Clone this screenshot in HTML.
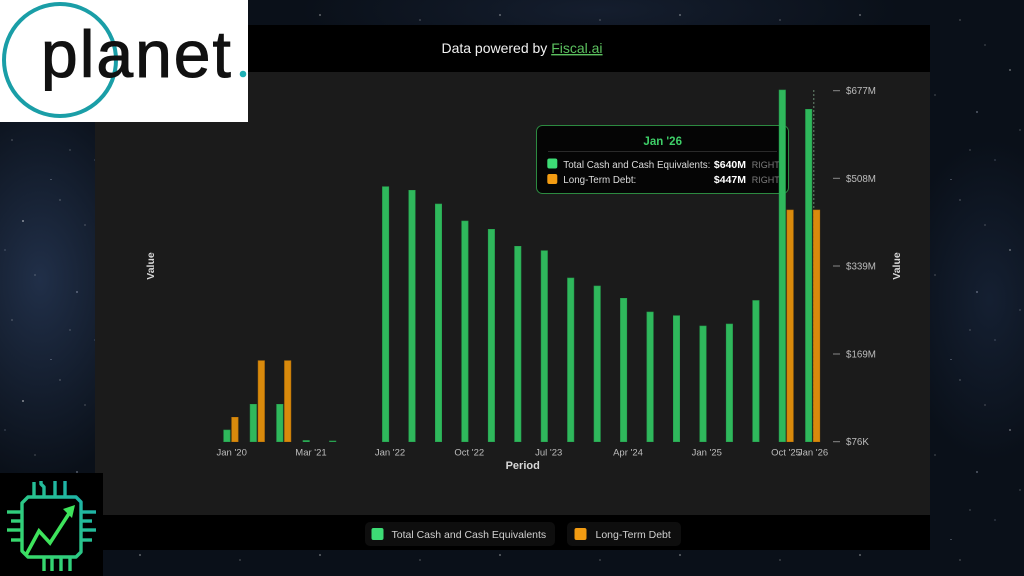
<!DOCTYPE html>
<html><head><meta charset="utf-8">
<style>
html,body{margin:0;padding:0;width:1024px;height:576px;overflow:hidden;}
body{
  background-color:#0a1019;
  background-image:
    radial-gradient(1.2px 1.2px at 23px 41px,#fff,transparent),
    radial-gradient(1px 1px at 77px 112px,#dde6ff,transparent),
    radial-gradient(1px 1px at 140px 15px,#fff,transparent),
    radial-gradient(1.3px 1.3px at 168px 150px,#fff,transparent),
    radial-gradient(1px 1px at 51px 180px,#cfd9f0,transparent),
    radial-gradient(1px 1px at 110px 70px,#fff,transparent),
    radial-gradient(0.8px 0.8px at 12px 140px,#fff,transparent),
    radial-gradient(0.8px 0.8px at 95px 160px,#bcc8e6,transparent),
    radial-gradient(0.8px 0.8px at 60px 20px,#fff,transparent),
    radial-gradient(0.8px 0.8px at 130px 95px,#fff,transparent),
    radial-gradient(0.7px 0.7px at 35px 95px,#fff,transparent),
    radial-gradient(0.7px 0.7px at 150px 60px,#fff,transparent),
    radial-gradient(0.7px 0.7px at 85px 45px,#fff,transparent),
    radial-gradient(0.7px 0.7px at 5px 70px,#dfe8ff,transparent),
    radial-gradient(0.7px 0.7px at 120px 130px,#fff,transparent),
    radial-gradient(0.7px 0.7px at 70px 150px,#fff,transparent),
    radial-gradient(ellipse 120px 200px at 40px 280px,rgba(60,85,130,0.45),transparent),
    radial-gradient(ellipse 90px 160px at 990px 300px,rgba(40,60,95,0.35),transparent),
    radial-gradient(ellipse 300px 60px at 600px 10px,rgba(40,55,85,0.35),transparent);
  background-size:180px 180px,180px 180px,180px 180px,180px 180px,180px 180px,180px 180px,180px 180px,180px 180px,180px 180px,180px 180px,180px 180px,180px 180px,180px 180px,180px 180px,180px 180px,180px 180px,100% 100%,100% 100%,100% 100%;
  background-repeat:repeat,repeat,repeat,repeat,repeat,repeat,repeat,repeat,repeat,repeat,repeat,repeat,repeat,repeat,repeat,repeat,no-repeat,no-repeat,no-repeat;
  font-family:"Liberation Sans",sans-serif;
}
svg{position:absolute;left:0;top:0;}
</style></head>
<body>
<svg width="1024" height="576" viewBox="0 0 1024 576" xmlns="http://www.w3.org/2000/svg" font-family="Liberation Sans, sans-serif">
  <defs>
    <linearGradient id="chipg" x1="15" y1="570" x2="95" y2="480" gradientUnits="userSpaceOnUse">
      <stop offset="0" stop-color="#3ee35c"/>
      <stop offset="1" stop-color="#17a8b8"/>
    </linearGradient>
  </defs>

  <!-- panel -->
  <rect x="95" y="25" width="835" height="47" fill="#000"/>
  <rect x="95" y="72" width="835" height="443" fill="#1b1b1b"/>
  <rect x="95" y="515" width="835" height="35" fill="#000"/>

  <!-- header text -->
  <text x="522" y="53" font-size="14" fill="#f2f2f2" text-anchor="middle">Data powered by <tspan fill="#5cc15f" text-decoration="underline">Fiscal.ai</tspan></text>

  <!-- axis labels -->
  <text transform="translate(154,266) rotate(-90)" font-size="10.5" font-weight="bold" fill="#d8d8d8" text-anchor="middle">Value</text>
  <text transform="translate(900,266) rotate(-90)" font-size="10.5" font-weight="bold" fill="#d8d8d8" text-anchor="middle">Value</text>
  <text x="522.7" y="469" font-size="11" font-weight="bold" fill="#d8d8d8" text-anchor="middle">Period</text>

  <!-- right ticks -->
  <g stroke="#8a8a8a" stroke-width="1">
    <line x1="833" y1="90.7" x2="840" y2="90.7"/>
    <line x1="833" y1="178.3" x2="840" y2="178.3"/>
    <line x1="833" y1="266" x2="840" y2="266"/>
    <line x1="833" y1="354" x2="840" y2="354"/>
    <line x1="833" y1="441.7" x2="840" y2="441.7"/>
  </g>
  <g font-size="9.8" fill="#bdbdbd">
    <text x="846" y="94.2">$677M</text>
    <text x="846" y="181.8">$508M</text>
    <text x="846" y="269.5">$339M</text>
    <text x="846" y="357.5">$169M</text>
    <text x="846" y="445.2">$76K</text>
  </g>

  <!-- x labels -->
  <g font-size="9.5" fill="#bdbdbd" text-anchor="middle">
    <text x="231.7" y="455.5">Jan '20</text>
    <text x="311" y="455.5">Mar '21</text>
    <text x="390" y="455.5">Jan '22</text>
    <text x="469.3" y="455.5">Oct '22</text>
    <text x="548.7" y="455.5">Jul '23</text>
    <text x="628" y="455.5">Apr '24</text>
    <text x="706.8" y="455.5">Jan '25</text>
    <text x="786" y="455.5">Oct '25</text>
    <text x="813" y="455.5">Jan '26</text>
  </g>

  <!-- tooltip (under bars) -->
  <rect x="536.5" y="125.5" width="252" height="68" rx="6" fill="#050505" stroke="#2c8a40" stroke-width="1"/>
  <text x="662.7" y="145" font-size="11.5" font-weight="bold" fill="#3ecf68" text-anchor="middle">Jan '26</text>
  <line x1="548" y1="151.5" x2="777" y2="151.5" stroke="#2a2a2a" stroke-width="1"/>
  <rect x="547.3" y="158.5" width="10" height="10" rx="2" fill="#3ddc75"/>
  <text x="563.3" y="167.8" font-size="9.8" fill="#dcdcdc">Total Cash and Cash Equivalents:</text>
  <text x="746" y="167.8" font-size="10.5" font-weight="bold" fill="#fff" text-anchor="end">$640M</text>
  <text x="751.7" y="167.8" font-size="9" fill="#7d7d7d">RIGHT</text>
  <rect x="547.3" y="174" width="10" height="10" rx="2" fill="#f39c12"/>
  <text x="563.3" y="183" font-size="9.8" fill="#dcdcdc">Long-Term Debt:</text>
  <text x="746" y="183" font-size="10.5" font-weight="bold" fill="#fff" text-anchor="end">$447M</text>
  <text x="751.7" y="183" font-size="9" fill="#7d7d7d">RIGHT</text>

  <!-- dashed hover line -->
  <line x1="813.8" y1="90" x2="813.8" y2="441.7" stroke="#6a8a72" stroke-width="1" stroke-dasharray="2,2"/>

  <!-- green bars -->
  <g fill="#2fb85c" stroke="#27a04f" stroke-width="0.6">
    <rect x="223.7" y="430" width="6.4" height="11.7"/>
    <rect x="250.1" y="404.3" width="6.4" height="37.4"/>
    <rect x="276.6" y="404.3" width="6.4" height="37.4"/>
    <rect x="303.0" y="440.5" width="6.4" height="1.2"/>
    <rect x="329.5" y="441" width="6.4" height="0.7"/>
    <rect x="382.4" y="186.7" width="6.4" height="255"/>
    <rect x="408.8" y="190.3" width="6.4" height="251.4"/>
    <rect x="435.3" y="204" width="6.4" height="237.7"/>
    <rect x="461.7" y="221" width="6.4" height="220.7"/>
    <rect x="488.2" y="229.3" width="6.4" height="212.4"/>
    <rect x="514.6" y="246.3" width="6.4" height="195.4"/>
    <rect x="541.1" y="250.7" width="6.4" height="191"/>
    <rect x="567.5" y="278" width="6.4" height="163.7"/>
    <rect x="594.0" y="286" width="6.4" height="155.7"/>
    <rect x="620.4" y="298.3" width="6.4" height="143.4"/>
    <rect x="646.9" y="312" width="6.4" height="129.7"/>
    <rect x="673.3" y="315.7" width="6.4" height="126"/>
    <rect x="699.8" y="326" width="6.4" height="115.7"/>
    <rect x="726.2" y="324" width="6.4" height="117.7"/>
    <rect x="752.7" y="300.5" width="6.4" height="141.2"/>
    <rect x="779.1" y="90" width="6.4" height="351.7"/>
    <rect x="805.5" y="109.3" width="6.4" height="332.4"/>
  </g>
  <!-- orange bars -->
  <g fill="#d98a0c" stroke="#c07608" stroke-width="0.6">
    <rect x="231.7" y="417.3" width="6.4" height="24.4"/>
    <rect x="258.1" y="360.7" width="6.4" height="81"/>
    <rect x="284.5" y="360.7" width="6.4" height="81"/>
    <rect x="786.9" y="210" width="6.4" height="231.7"/>
    <rect x="813.4" y="210" width="6.4" height="231.7"/>
  </g>

  <!-- legend -->
  <rect x="365" y="522" width="190" height="24" rx="5" fill="#0e0e0e"/>
  <rect x="371.5" y="528" width="12" height="12" rx="2" fill="#3ddc75"/>
  <text x="391.5" y="538" font-size="10.5" fill="#d0d0d0">Total Cash and Cash Equivalents</text>
  <rect x="567" y="522" width="114" height="24" rx="5" fill="#0e0e0e"/>
  <rect x="574.5" y="528" width="12" height="12" rx="2" fill="#f39c12"/>
  <text x="595.5" y="538" font-size="10.5" fill="#d0d0d0">Long-Term Debt</text>

  <!-- planet logo -->
  <rect x="0" y="0" width="248" height="122" fill="#fff"/>
  <circle cx="60" cy="60" r="56" fill="none" stroke="#1a9ea7" stroke-width="4"/>
  <text x="41" y="77" font-size="66" fill="#111" stroke="#111" stroke-width="1" letter-spacing="2">planet</text>
  <circle cx="243" cy="74" r="3.3" fill="#1fb0b5"/>

  <!-- chip icon -->
  <rect x="0" y="473" width="103" height="103" fill="#000"/>
  <g fill="none" stroke="url(#chipg)" stroke-width="3.4" stroke-linecap="butt" stroke-linejoin="round">
    <path d="M28,497 H76 L81,502 V552 L76,557 H28 L22,551 V503 Z"/>
    <path d="M34,497 V482"/>
    <path d="M44,497 V487 L41,484 V481"/>
    <path d="M55,497 V481"/>
    <path d="M65,497 V481"/>
    <path d="M22,512 H7"/>
    <path d="M22,521 H11"/>
    <path d="M22,530 H7"/>
    <path d="M22,540 H11"/>
    <path d="M81,512 H96"/>
    <path d="M81,521 H92"/>
    <path d="M81,530 H96"/>
    <path d="M81,540 H92"/>
    <path d="M44,557 V571"/>
    <path d="M52,557 V571"/>
    <path d="M61,557 V571"/>
    <path d="M70,557 V571"/>
  </g>
  <g>
    <polyline points="26,555 39,531 50,543 70,512" fill="none" stroke="#3ee35c" stroke-width="3.6" stroke-linejoin="miter"/>
    <polygon points="75,505 63,509 72,518" fill="#3ee35c"/>
  </g>
</svg>
</body></html>
